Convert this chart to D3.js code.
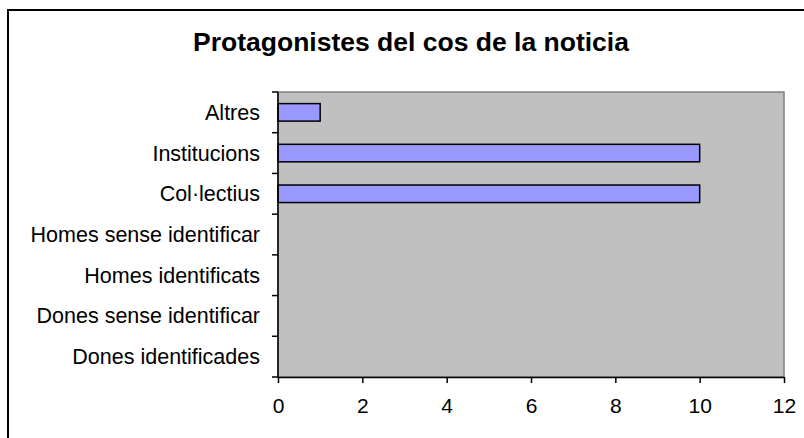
<!DOCTYPE html>
<html>
<head>
<meta charset="utf-8">
<script src="https://cdn.jsdelivr.net/npm/d3@7"></script>
<style>
  body { margin: 0; background: #fff; }
  svg text { font-family: "Liberation Sans", Arial, sans-serif; fill: #000; }
</style>
</head>
<body>
<svg id="chart" width="804" height="438"></svg>
<script>
// categories listed top to bottom as in the chart
var categories = ["Altres", "Institucions", "Col\u00b7lectius", "Homes sense identificar",
    "Homes identificats", "Dones sense identificar", "Dones identificades"];
var values = [1, 10, 10, 0, 0, 0, 0];
var xTicks = [0, 2, 4, 6, 8, 10, 12];
var title = "Protagonistes del cos de la noticia";

var svg = d3.select("#chart"),
    plot = { left: 278, top: 92, right: 784, bottom: 377 };

// outer chart border (cut by the picture on the right and bottom)
svg.append("rect")
    .attr("x", 8).attr("y", 10)
    .attr("width", 820).attr("height", 460)
    .attr("fill", "none").attr("stroke", "#000").attr("stroke-width", 2);

svg.append("text")
    .attr("x", 411).attr("y", 51)
    .attr("text-anchor", "middle")
    .attr("font-size", 26.5).attr("font-weight", "bold")
    .text(title);

var x = d3.scaleLinear().domain([0, 12]).range([plot.left, plot.right]);
var y = d3.scaleBand().domain(categories).range([plot.top, plot.bottom]).paddingInner(0.57).paddingOuter(0.285);
var yb = d3.scaleBand().domain(categories).range([plot.top, plot.bottom]);

// plot area
svg.append("rect")
    .attr("x", plot.left).attr("y", plot.top)
    .attr("width", plot.right - plot.left).attr("height", plot.bottom - plot.top)
    .attr("fill", "#c0c0c0").attr("stroke", "#808080").attr("stroke-width", 1.5);

svg.selectAll("rect.bar")
    .data(values)
    .enter()
    .append("rect")
    .attr("class", "bar")
    .attr("x", x(0))
    .attr("y", (d, i) => y(categories[i]))
    .attr("width", d => x(d) - x(0))
    .attr("height", y.bandwidth())
    .attr("fill", d => d > 0 ? "#9999ff" : "none")
    .attr("stroke", d => d > 0 ? "#000" : "none")
    .attr("stroke-width", 1.5);

// left axis: ticks at category boundaries, labels at band centres
var yAxis = svg.append("g");
yAxis.append("line")
    .attr("x1", plot.left).attr("x2", plot.left)
    .attr("y1", plot.top).attr("y2", plot.bottom)
    .attr("stroke", "#000").attr("stroke-width", 1.5);
yAxis.selectAll("line.tick")
    .data(d3.range(categories.length + 1))
    .enter()
    .append("line")
    .attr("class", "tick")
    .attr("x1", plot.left - 6).attr("x2", plot.left)
    .attr("y1", i => plot.top + i * yb.step())
    .attr("y2", i => plot.top + i * yb.step())
    .attr("stroke", "#000").attr("stroke-width", 1.5);
yAxis.selectAll("text")
    .data(categories)
    .enter()
    .append("text")
    .attr("x", plot.left - 18)
    .attr("y", d => yb(d) + yb.bandwidth() / 2)
    .attr("dy", "0.35em")
    .attr("text-anchor", "end")
    .attr("font-size", 21.5)
    .text(d => d);

var xAxis = d3.axisBottom(x).tickValues(xTicks).tickSize(6).tickPadding(15).tickSizeOuter(0);
var gx = svg.append("g")
    .attr("transform", "translate(0," + plot.bottom + ")")
    .call(xAxis);
gx.select(".domain").attr("stroke", "#000").attr("stroke-width", 1.5);
gx.selectAll(".tick line").attr("stroke", "#000").attr("stroke-width", 1.5);
gx.selectAll(".tick text").attr("font-size", 21).attr("font-family", "Liberation Sans, Arial, sans-serif");
</script>
</body>
</html>
